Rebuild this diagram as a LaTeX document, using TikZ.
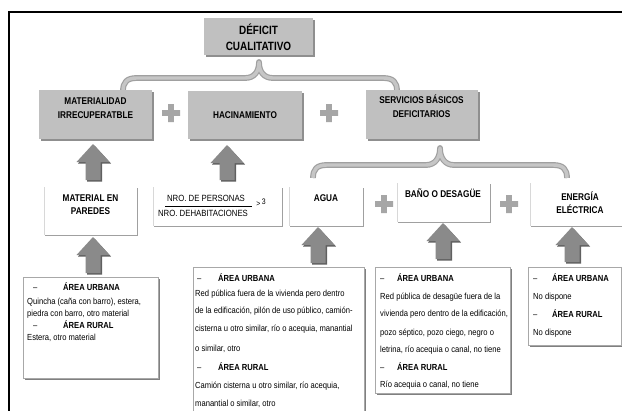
\documentclass[tikz,border=0pt]{standalone}
\usepackage{fontspec}
\setmainfont{Liberation Sans}[FakeStretch=0.87]
\newfontfamily\hfont{Liberation Sans}[FakeStretch=0.84]
\newfontfamily\tfont{Liberation Sans}[FakeStretch=0.83]
\newfontfamily\dfont{Liberation Sans}[FakeStretch=0.865]
\usetikzlibrary{shadows}
\definecolor{boxgray}{HTML}{C0C0C0}
\definecolor{boxshadow}{HTML}{8F8F8F}
\definecolor{rowshadow}{HTML}{A0A0A0}
\definecolor{rowedge}{HTML}{D8D8D8}
\definecolor{detborder}{HTML}{A8A8A8}
\definecolor{detshadow}{HTML}{808080}
\definecolor{arrowgray}{HTML}{8A8A8A}
\definecolor{arrowshadow}{HTML}{606060}
\definecolor{plusgray}{HTML}{A6A6A6}
\definecolor{braceout}{HTML}{A0A0A0}
\definecolor{bracein}{HTML}{C6C6C6}
\tikzset{
  hdrbox/.style={fill=boxgray, inner sep=0, outer sep=0,
    drop shadow={shadow xshift=1.5bp, shadow yshift=-1.5bp, fill=boxshadow, opacity=1}},
  rowbox/.style={fill=white, inner sep=0, outer sep=0,
    drop shadow={shadow xshift=1.3bp, shadow yshift=-1.3bp, fill=rowshadow, opacity=1}},
  detbox/.style={fill=white, draw=detborder, line width=0.5bp, inner sep=0, outer sep=0,
    drop shadow={shadow xshift=2bp, shadow yshift=-2bp, fill=detshadow, opacity=1}},
  hdrtext/.style={align=center, inner sep=0, text=black,
    font=\hfont\bfseries\fontsize{9.8bp}{14bp}\selectfont},
  titletext/.style={align=center, inner sep=0, text=black,
    font=\tfont\bfseries\fontsize{12bp}{16bp}\selectfont},
  fractext/.style={inner sep=0, font=\dfont\fontsize{9bp}{10bp}\selectfont},
  dline/.style={anchor=base west, inner sep=0, font=\dfont\fontsize{8.8bp}{10bp}\selectfont},
  dbold/.style={dline, font=\dfont\bfseries\fontsize{8.8bp}{10bp}\selectfont},
  bracepath/.style={draw=bracein, line width=3.4bp, line join=round,
    preaction={draw=braceout, line width=5.8bp, line join=round}},
  uparr/.pic={
    \fill[arrowshadow, shift={(1.5,1.5)}] (0,0) -- (16.5,18) -- (7.5,18) -- (7.5,#1) -- (-7.5,#1) -- (-7.5,18) -- (-16.5,18) -- cycle;
    \fill[arrowgray] (0,0) -- (16.5,18) -- (7.5,18) -- (7.5,#1) -- (-7.5,#1) -- (-7.5,18) -- (-16.5,18) -- cycle;
  },
  plussign/.pic={
    \fill[plusgray] (-9,-2.9) rectangle (9,2.9) (-2.9,-9) rectangle (2.9,9);
  }
}
\begin{document}
\begin{tikzpicture}[x=1bp,y=-1bp]
\useasboundingbox (0,0) rectangle (622,410);
\fill[white] (0,0) rectangle (622,410);
% outer frame
\draw[line width=1.8bp] (9,420) -- (9,12) -- (630,12);

% braces
\coordinate (b1l) at (123,91);
\coordinate (b1c) at (259,62);
\coordinate (b1r) at (397,91);
\draw[bracepath] (b1l) .. controls (123,82) and (127,78) .. (137,78) -- (245,78)
  .. controls (254,78) and (259,72) .. (b1c) .. controls (259,72) and (264,78) .. (273,78)
  -- (383,78) .. controls (393,78) and (397,82) .. (b1r);
\coordinate (b2l) at (313,178);
\coordinate (b2c) at (440,148);
\coordinate (b2r) at (567,178);
\draw[bracepath] (b2l) .. controls (313,169) and (317,165) .. (327,165) -- (426,165)
  .. controls (435,165) and (440,158) .. (b2c) .. controls (440,158) and (445,165) .. (454,165)
  -- (553,165) .. controls (563,165) and (567,169) .. (b2r);

% header boxes
\node[hdrbox, minimum width=109bp, minimum height=37bp] (dc) at (258.5,36.5) {};
\node[hdrbox, minimum width=113bp, minimum height=49bp] (mir) at (95.5,114.5) {};
\node[hdrbox, minimum width=114bp, minimum height=48bp] (hac) at (245,115) {};
\node[hdrbox, minimum width=112bp, minimum height=49bp] (sbd) at (422,114.5) {};

% second row boxes
\node[rowbox, minimum width=93bp, minimum height=48bp] (mep) at (90.5,211) {};
\node[rowbox, minimum width=129bp, minimum height=39bp] (nro) at (217.5,206.5) {};
\node[rowbox, minimum width=74bp, minimum height=39bp] (agua) at (326,206.5) {};
\node[rowbox, minimum width=93bp, minimum height=39bp] (bano) at (443.5,202.5) {};
\node[rowbox, minimum width=100bp, minimum height=43bp] (ener) at (580,204.5) {};
\foreach \n in {mep,nro,agua,bano,ener}
  \draw[rowedge, line width=0.6bp] (\n.north west) -- (\n.south west);

% detail boxes
\node[detbox, minimum width=135bp, minimum height=101bp] (mdet) at (90.5,327.5) {};
\node[detbox, minimum width=171bp, minimum height=153bp] (adet) at (278.5,343.5) {};
\node[detbox, minimum width=135bp, minimum height=126bp] (bdet) at (442.5,330) {};
\node[detbox, minimum width=93bp, minimum height=78bp] (edet) at (574.5,306) {};

% block arrows
\pic at (93,144) {uparr=36};
\pic at (227,145) {uparr=35};
\pic at (93,237) {uparr=36};
\pic at (318,227) {uparr=36};
\pic at (443,223) {uparr=36};
\pic at (572,227) {uparr=35};

% plus signs
\pic at (171,113) {plussign};
\pic at (329,113) {plussign};
\pic at (384,204) {plussign};
\pic at (509,204) {plussign};

% header texts
\node[titletext] (dct) at (258.5,36.8) {DÉFICIT\\CUALITATIVO};
\node[hdrtext] (mirt) at (95.5,108) {MATERIALIDAD\\IRRECUPERATBLE};
\node[hdrtext] (hact) at (245,115) {HACINAMIENTO};
\node[hdrtext] (sbdt) at (421.5,106.5) {SERVICIOS BÁSICOS\\DEFICITARIOS};

% second row texts
\node[hdrtext, font=\hfont\bfseries\fontsize{9.8bp}{13bp}\selectfont] (mept) at (90.5,204.5) {MATERIAL EN\\PAREDES};
\node[fractext] (num) at (206,198) {NRO. DE PERSONAS};
\node[fractext] (den) at (203,213) {NRO. DEHABITACIONES};
\draw[line width=0.6bp] (165,206) -- (252,206);
\node[fractext, font=\dfont\fontsize{8bp}{9bp}\selectfont] (gt) at (261,202.5) {>\,\raisebox{1.5bp}{3}};
\node[hdrtext] (aguat) at (326,198) {AGUA};
\node[hdrtext] (banot) at (443,193) {BAÑO O DESAGÜE};
\node[hdrtext, font=\hfont\bfseries\fontsize{9.8bp}{13bp}\selectfont] (enert) at (580,202.3) {ENERGÍA\\ELÉCTRICA};

% detail texts: material
\node[dline] (m1d) at (33,290) {–};
\node[dbold] (m1) at (63,290) {ÁREA URBANA};
\node[dline] (m2) at (27,304) {Quincha (caña con barro), estera,};
\node[dline] (m3) at (27,316) {piedra con barro, otro material};
\node[dline] (m4d) at (33,328) {–};
\node[dbold] (m4) at (63,328) {ÁREA RURAL};
\node[dline] (m5) at (27,340) {Estera, otro material};

% detail texts: agua
\node[dline] (a1d) at (197,281) {–};
\node[dbold] (a1) at (218,281) {ÁREA URBANA};
\node[dline] (a2) at (195,296) {Red pública fuera de la vivienda pero dentro};
\node[dline] (a3) at (195,313) {de la edificación, pilón de uso público, camión-};
\node[dline] (a4) at (195,331) {cisterna u otro similar, río o acequia, manantial};
\node[dline] (a5) at (195,351) {o similar, otro};
\node[dline] (a6d) at (197,370) {–};
\node[dbold] (a6) at (218,370) {ÁREA RURAL};
\node[dline] (a7) at (195,388) {Camión cisterna u otro similar, río acequia,};
\node[dline] (a8) at (195,406) {manantial o similar, otro};

% detail texts: baño
\node[dline] (b1d) at (380,281) {–};
\node[dbold] (b1) at (397,281) {ÁREA URBANA};
\node[dline] (b2) at (380,299) {Red pública de desagüe fuera de la};
\node[dline] (b3) at (380,316) {vivienda pero dentro de la edificación,};
\node[dline] (b4) at (380,335) {pozo séptico, pozo ciego, negro o};
\node[dline] (b5) at (380,352) {letrina, río acequia o canal, no tiene};
\node[dline] (b6d) at (380,370) {–};
\node[dbold] (b6) at (397,370) {ÁREA RURAL};
\node[dline] (b7) at (380,387) {Río acequia o canal, no tiene};

% detail texts: energía
\node[dline] (e1d) at (533,281) {–};
\node[dbold] (e1) at (552,281) {ÁREA URBANA};
\node[dline] (e2) at (533,299) {No dispone};
\node[dline] (e3d) at (533,317) {–};
\node[dbold] (e3) at (552,317) {ÁREA RURAL};
\node[dline] (e4) at (533,335) {No dispone};
\end{tikzpicture}
\end{document}
